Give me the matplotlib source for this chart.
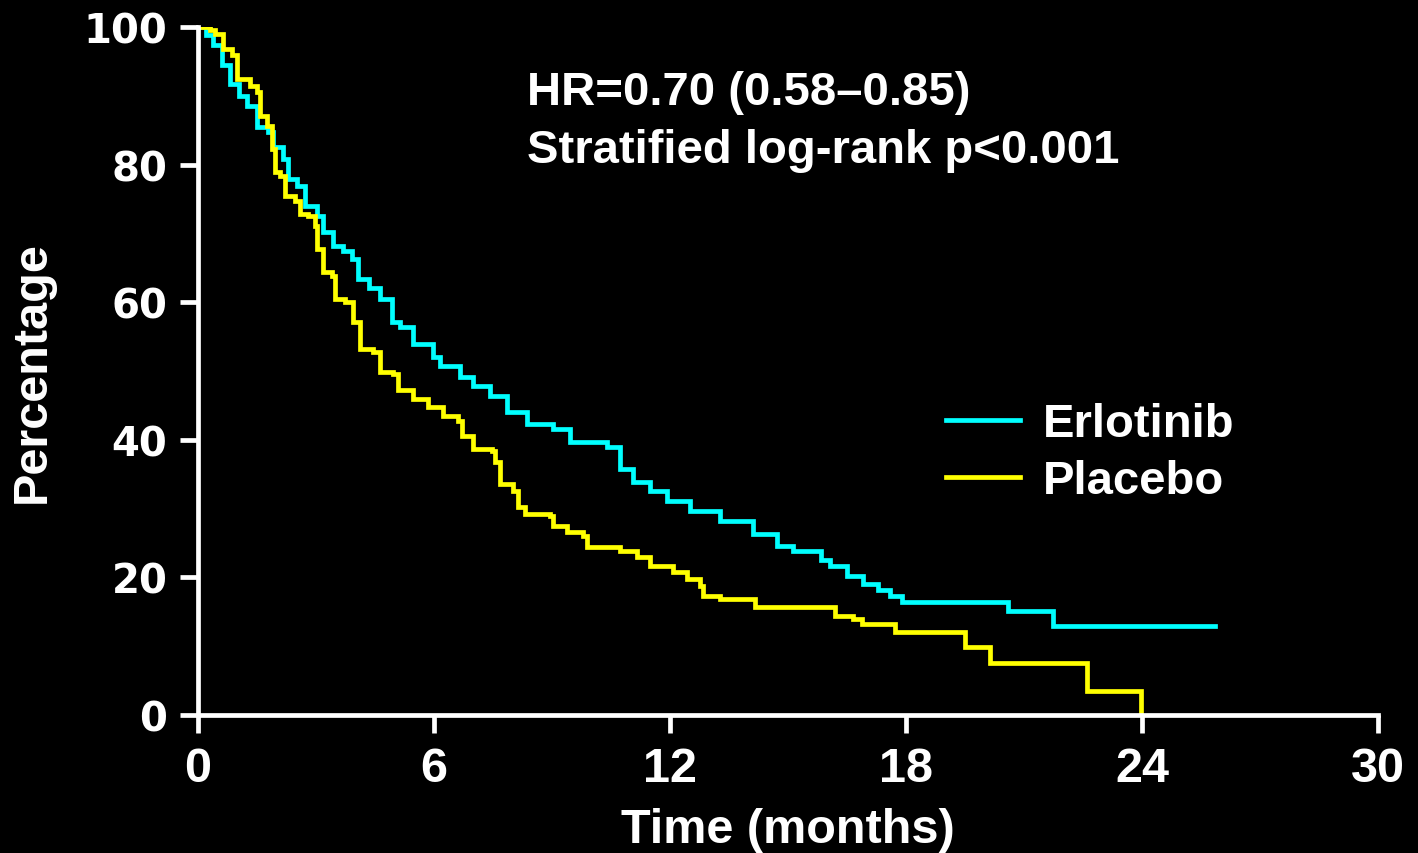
import matplotlib
matplotlib.use("Agg")
import matplotlib.pyplot as plt

# Kaplan-Meier steps (months, % surviving)
erl_t = [0, 0.2, 0.38, 0.6, 0.81, 1.05, 1.25, 1.5, 1.78, 1.9, 2.16, 2.29, 2.52, 2.72,
         3.03, 3.18, 3.43, 3.7, 3.92, 4.07, 4.35, 4.63, 4.93, 5.14, 5.47, 5.98, 6.15,
         6.66, 7.0, 7.42, 7.86, 8.36, 9.03, 9.46, 10.4, 10.73, 11.06, 11.5, 11.92,
         12.5, 13.27, 14.1, 14.72, 15.13, 15.85, 16.07, 16.5, 16.9, 17.3, 17.6, 17.9,
         20.6, 21.74, 25.86]
erl_s = [100, 98.8, 97.4, 94.5, 91.7, 90, 88.5, 85.5, 84.7, 82.6, 80.8, 77.9, 76.9, 74,
         72.5, 70.2, 68.2, 67.5, 66.3, 63.4, 62, 60.5, 57.1, 56.4, 53.9, 52, 50.7,
         49.1, 47.8, 46.4, 44.0, 42.3, 41.6, 39.7, 39.0, 35.8, 33.9, 32.5, 31.1,
         29.7, 28.2, 26.3, 24.6, 23.8, 22.5, 21.7, 20.2, 19.0, 18.2, 17.3, 16.4,
         15.1, 12.9, 12.9]

pla_t = [0, 0.3, 0.43, 0.64, 0.86, 0.99, 1.32, 1.5, 1.58, 1.75, 1.88, 1.96, 2.08, 2.21,
         2.47, 2.59, 2.8, 2.97, 3.03, 3.18, 3.41, 3.48, 3.74, 3.94, 4.12, 4.45, 4.63,
         4.96, 5.09, 5.47, 5.85, 6.23, 6.61, 6.71, 7.0, 7.47, 7.55, 7.68, 8.0, 8.14,
         8.31, 8.95, 9.03, 9.38, 9.79, 9.89, 10.73, 11.16, 11.49, 12.08, 12.43, 12.76,
         12.84, 13.27, 14.16, 16.2, 16.65, 16.88, 17.72, 19.5, 20.14, 22.6, 23.98]
pla_s = [100, 99.5, 99, 96.8, 96, 92.4, 91.4, 90.5, 87, 85.6, 82.3, 78.9, 78.3, 75.4,
         74.7, 72.8, 72.5, 71.1, 67.7, 64.4, 63.8, 60.5, 60.0, 57.1, 53.2, 52.8, 49.9,
         49.6, 47.2, 46.0, 44.7, 43.5, 42.7, 40.6, 38.7, 38.4, 36.8, 33.6, 32.6, 30.2,
         29.2, 28.9, 27.5, 26.6, 26.0, 24.4, 23.8, 23.0, 21.7, 20.8, 19.8, 18.8,
         17.3, 16.9, 15.7, 14.4, 14.0, 13.2, 12.0, 9.9, 7.5, 3.5, 0]

x_ticks = [0, 6, 12, 18, 24, 30]
y_ticks = [0, 20, 40, 60, 80, 100]
annot = ["HR=0.70 (0.58\u20130.85)", "Stratified log-rank p<0.001"]

font = "Liberation Sans"

fig = plt.figure(figsize=(14.18, 8.54), dpi=100, facecolor="black")
ax = fig.add_axes([0.1396, 0.1616, 0.8322, 0.8056], facecolor="black")

ax.step(erl_t, erl_s, where="post", color="#00FFFF", lw=3.4, label="Erlotinib", solid_joinstyle="miter")
ax.step(pla_t, pla_s, where="post", color="#FFFF00", lw=3.4, label="Placebo", solid_joinstyle="miter")

ax.set_xlim(0, 30)
ax.set_ylim(0, 100)
ax.set_xticks(x_ticks)
ax.set_yticks(y_ticks)
for s in ["top", "right"]:
    ax.spines[s].set_visible(False)
for s in ["left", "bottom"]:
    ax.spines[s].set_color("white")
    ax.spines[s].set_linewidth(3.4)
ax.tick_params(colors="white", width=3.4, length=13, pad=9)
for lab in ax.get_yticklabels():
    lab.set_fontfamily("DejaVu Sans")
    lab.set_fontweight("bold")
    lab.set_fontsize(29)
for lab in ax.get_xticklabels():
    lab.set_fontfamily(font)
    lab.set_fontweight("bold")
    lab.set_fontsize(35)

ax.set_xlabel("Time (months)", color="white", fontsize=35, fontweight="bold",
              family=font, labelpad=12)
ax.set_ylabel("Percentage", color="white", fontsize=35, fontweight="bold",
              family=font, labelpad=21)

ax.text(8.37, 93.8, annot[0], color="white", fontsize=34, fontweight="bold",
        family=font, va="top")
ax.text(8.37, 85.3, annot[1], color="white", fontsize=34, fontweight="bold",
        family=font, va="top")

leg = ax.legend(loc="center left", bbox_to_anchor=(0.634, 0.381), frameon=False,
                borderpad=0, borderaxespad=0, handlelength=1.57, handletextpad=0.47,
                labelspacing=0.27,
                prop={"family": font, "weight": "bold", "size": 34})
for t in leg.get_texts():
    t.set_color("white")

fig.savefig("out.png", dpi=100, facecolor="black")
